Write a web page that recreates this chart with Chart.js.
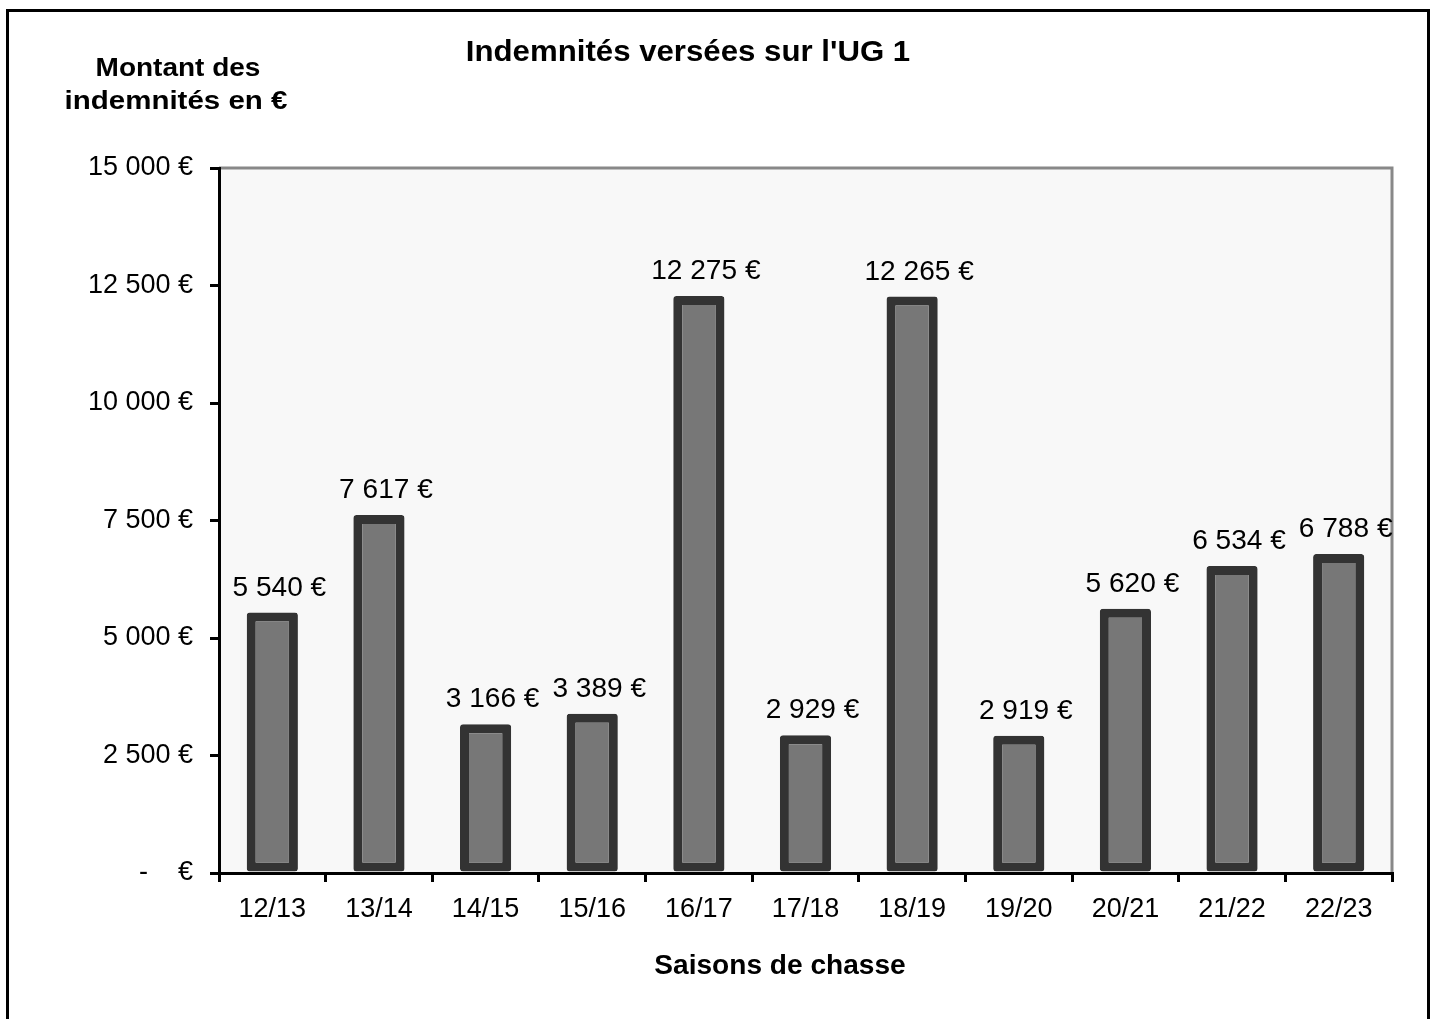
<!DOCTYPE html>
<html>
<head>
<meta charset="utf-8">
<script src="https://cdn.jsdelivr.net/npm/chart.js@4.4.1/dist/chart.umd.min.js"></script>
<style>
  html, body { margin: 0; padding: 0; background: #fff; }
  canvas { display: block; }
</style>
</head>
<body>
<canvas id="ugChart" width="1434" height="1019"></canvas>
<script>
// Data
const seasons = ['12/13', '13/14', '14/15', '15/16', '16/17', '17/18', '18/19', '19/20', '20/21', '21/22', '22/23'];
const amounts = [5540, 7617, 3166, 3389, 12275, 2929, 12265, 2919, 5620, 6534, 6788];
const yTicks = [0, 2500, 5000, 7500, 10000, 12500, 15000];

const FONT = "'Liberation Sans', Arial, sans-serif";

// "12 500 €", zero shown as in accounting format
const euro = (v) => {
    if (v === 0) return '-    €';
    return String(v).replace(/\B(?=(\d{3})+(?!\d))/g, ' ') + ' €';
};

// text stretched a little horizontally, like the Excel rendering
const wideText = (ctx, text, x, y, sx) => {
    ctx.save();
    ctx.translate(x, y);
    ctx.scale(sx, 1);
    ctx.fillText(text, 0, 0);
    ctx.restore();
};

// plot background, grey top/right frame, outer border
const framePlugin = {
    id: 'frame',
    beforeDraw(chart) {
        const { ctx, chartArea: a } = chart;
        ctx.save();
        ctx.fillStyle = '#f8f8f8';
        ctx.fillRect(a.left, a.top, a.right - a.left, a.bottom - a.top);
        ctx.strokeStyle = '#888888';
        ctx.lineWidth = 3;
        ctx.beginPath();
        ctx.moveTo(a.left, a.top);
        ctx.lineTo(a.right, a.top);
        ctx.lineTo(a.right, a.bottom);
        ctx.stroke();
        // outer chart border (bottom edge is cut off in the original)
        ctx.strokeStyle = '#000';
        ctx.lineWidth = 3;
        ctx.strokeRect(7.5, 10.5, 1421, 1100);
        ctx.restore();
    },
    afterDraw(chart) {
        const { ctx } = chart;
        ctx.save();
        ctx.fillStyle = '#000';
        ctx.textAlign = 'center';
        ctx.textBaseline = 'middle';
        ctx.font = 'bold 30px ' + FONT;
        wideText(ctx, "Indemnités versées sur l'UG 1", 688, 53, 1.04);
        ctx.font = 'bold 25px ' + FONT;
        wideText(ctx, 'Montant des', 178, 69, 1.12);
        wideText(ctx, 'indemnités en €', 176, 102, 1.18);
        ctx.font = 'bold 27px ' + FONT;
        wideText(ctx, 'Saisons de chasse', 780, 967, 1.04);
        ctx.restore();
    }
};

// value labels above bars (Excel puts them a few px right of centre)
const valueLabels = {
    id: 'valueLabels',
    afterDatasetsDraw(chart) {
        const { ctx } = chart;
        const meta = chart.getDatasetMeta(0);
        ctx.save();
        ctx.fillStyle = '#000';
        ctx.font = '27px ' + FONT;
        ctx.textAlign = 'center';
        ctx.textBaseline = 'alphabetic';
        meta.data.forEach((bar, i) => {
            wideText(ctx, euro(amounts[i]), bar.x + 7, bar.y - 17, 1.04);
        });
        ctx.restore();
    }
};

const ctx = document.getElementById('ugChart').getContext('2d');
const ugChart = new Chart(ctx, {
    type: 'bar',
    data: {
        labels: seasons,
        datasets: [{
            label: 'Indemnités',
            data: amounts,
            backgroundColor: '#777777',
            borderColor: '#333333',
            borderWidth: 9,
            borderSkipped: false,
            borderRadius: 3,
            barPercentage: 0.48,
            categoryPercentage: 1
        }]
    },
    options: {
        responsive: false,
        animation: false,
        layout: {
            padding: { left: 0, right: 42, top: 168, bottom: 86 }
        },
        plugins: {
            legend: { display: false },
            title: { display: false },
            tooltip: { enabled: false }
        },
        scales: {
            x: {
                offset: true,
                afterFit: (scale) => { scale.height = 60; },
                border: { color: '#000', width: 3 },
                grid: {
                    offset: true,
                    drawOnChartArea: false,
                    drawTicks: true,
                    tickLength: 9,
                    color: '#000',
                    lineWidth: 3
                },
                ticks: {
                    color: '#000',
                    padding: 11,
                    font: { family: FONT, size: 27 },
                    maxRotation: 0
                }
            },
            y: {
                min: 0,
                max: 15000,
                afterFit: (scale) => { scale.width = 219; },
                afterBuildTicks: (scale) => {
                    scale.ticks = yTicks.map(v => ({ value: v }));
                },
                border: { color: '#000', width: 3 },
                grid: {
                    drawOnChartArea: false,
                    drawTicks: true,
                    tickLength: 9,
                    color: '#000',
                    lineWidth: 3
                },
                ticks: {
                    color: '#000',
                    padding: 17,
                    font: { family: FONT, size: 27 },
                    callback: (v) => euro(v)
                }
            }
        }
    },
    plugins: [framePlugin, valueLabels]
});
</script>
</body>
</html>
